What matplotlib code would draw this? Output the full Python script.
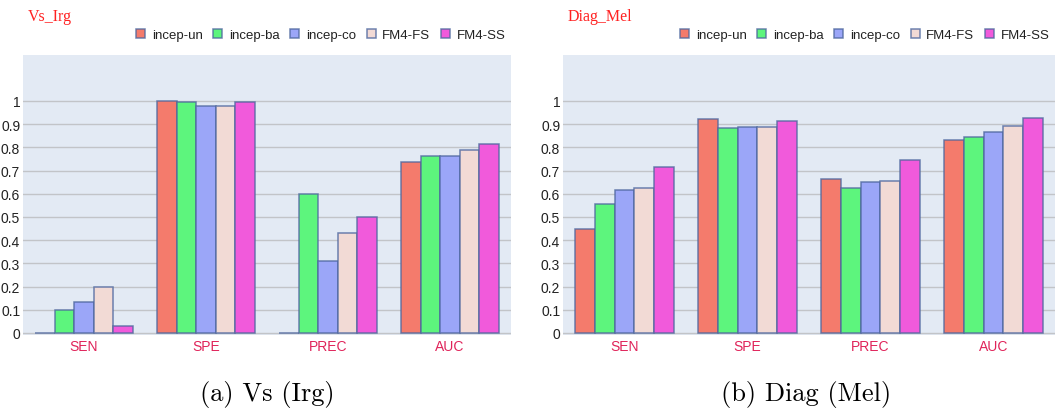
import matplotlib
matplotlib.use("Agg")
import matplotlib.pyplot as plt
import numpy as np

# Metrics and models
categories = ["SEN", "SPE", "PREC", "AUC"]
models = ["incep-un", "incep-ba", "incep-co", "FM4-FS", "FM4-SS"]
colors = ["#F47B6C", "#5DF57D", "#9BA6F8", "#F2DAD5", "#F15ADB"]

# Vs (Irg) scores, one list per model, ordered as categories
vs_irg = {
    "incep-un": [0.0, 1.0, 0.0, 0.735],
    "incep-ba": [0.10, 0.996, 0.60, 0.761],
    "incep-co": [0.134, 0.976, 0.309, 0.761],
    "FM4-FS": [0.20, 0.98, 0.43, 0.79],
    "FM4-SS": [0.03, 0.997, 0.50, 0.813],
}

# Diag (Mel) scores
diag_mel = {
    "incep-un": [0.446, 0.921, 0.663, 0.833],
    "incep-ba": [0.554, 0.885, 0.623, 0.843],
    "incep-co": [0.614, 0.889, 0.652, 0.865],
    "FM4-FS": [0.626, 0.889, 0.656, 0.891],
    "FM4-SS": [0.714, 0.915, 0.744, 0.928],
}

yticks = [0, 0.1, 0.2, 0.3, 0.4, 0.5, 0.6, 0.7, 0.8, 0.9, 1]
ytick_labels = ["0", "0.1", "0.2", "0.3", "0.4", "0.5", "0.6", "0.7", "0.8", "0.9", "1"]

UI_FONT = ["Liberation Sans", "DejaVu Sans"]
BG = "#E3EAF4"
EDGE = (0.30, 0.40, 0.62, 0.8)

fig = plt.figure(figsize=(10.58, 4.10), dpi=100)
W, H = 1058.0, 410.0


def panel(left_px, right_px, data, title, title_x, caption, caption_x):
    ax = fig.add_axes([left_px / W, (H - 336) / H, (right_px - left_px) / W, 280 / H])
    ax.set_facecolor(BG)
    for s in ax.spines.values():
        s.set_visible(False)
    x = np.arange(len(categories))
    bw = 0.16
    for i, m in enumerate(models):
        ax.bar(x + (i - 2) * bw, data[m], width=bw, color=colors[i],
               edgecolor=EDGE, linewidth=1.1, label=m, zorder=3)
    ax.set_xlim(-0.5, len(categories) - 0.5)
    ax.set_ylim(-0.009, 1.198)
    ax.set_yticks(yticks)
    ax.set_yticklabels(ytick_labels, fontfamily=UI_FONT, fontsize=10, color="#222222")
    ax.set_xticks(x)
    ax.set_xticklabels(categories, fontfamily=UI_FONT, fontsize=10, color="#E0245A")
    ax.tick_params(axis="both", length=0)
    ax.tick_params(axis="y", pad=2)
    ax.tick_params(axis="x", pad=3)
    ax.grid(axis="y", color="#C2C4C8", linewidth=1.0, zorder=0)
    ax.set_axisbelow(True)

    leg = ax.legend(loc="center right", bbox_to_anchor=(1.0, 1 + 20 / 280), ncol=5,
                    frameon=False, handlelength=0.7, handleheight=0.7,
                    handletextpad=0.5, columnspacing=0.8, borderaxespad=0,
                    prop={"family": UI_FONT, "size": 9.5})
    for t in leg.get_texts():
        t.set_color("#222222")

    fig.text(title_x / W, 1 - 17 / H, title, color="#FF2222",
             family="Liberation Serif", fontsize=11.5, va="center", ha="left")
    fig.text(caption_x / W, 1 - 395 / H, caption, family="cmr10",
             fontsize=19, va="center", ha="center")
    return ax


panel(23, 511, vs_irg, "Vs_Irg", 28, "(a) Vs (Irg)", 267)
panel(563, 1055, diag_mel, "Diag_Mel", 568, "(b) Diag (Mel)", 806)

fig.savefig("out.png", dpi=100)
